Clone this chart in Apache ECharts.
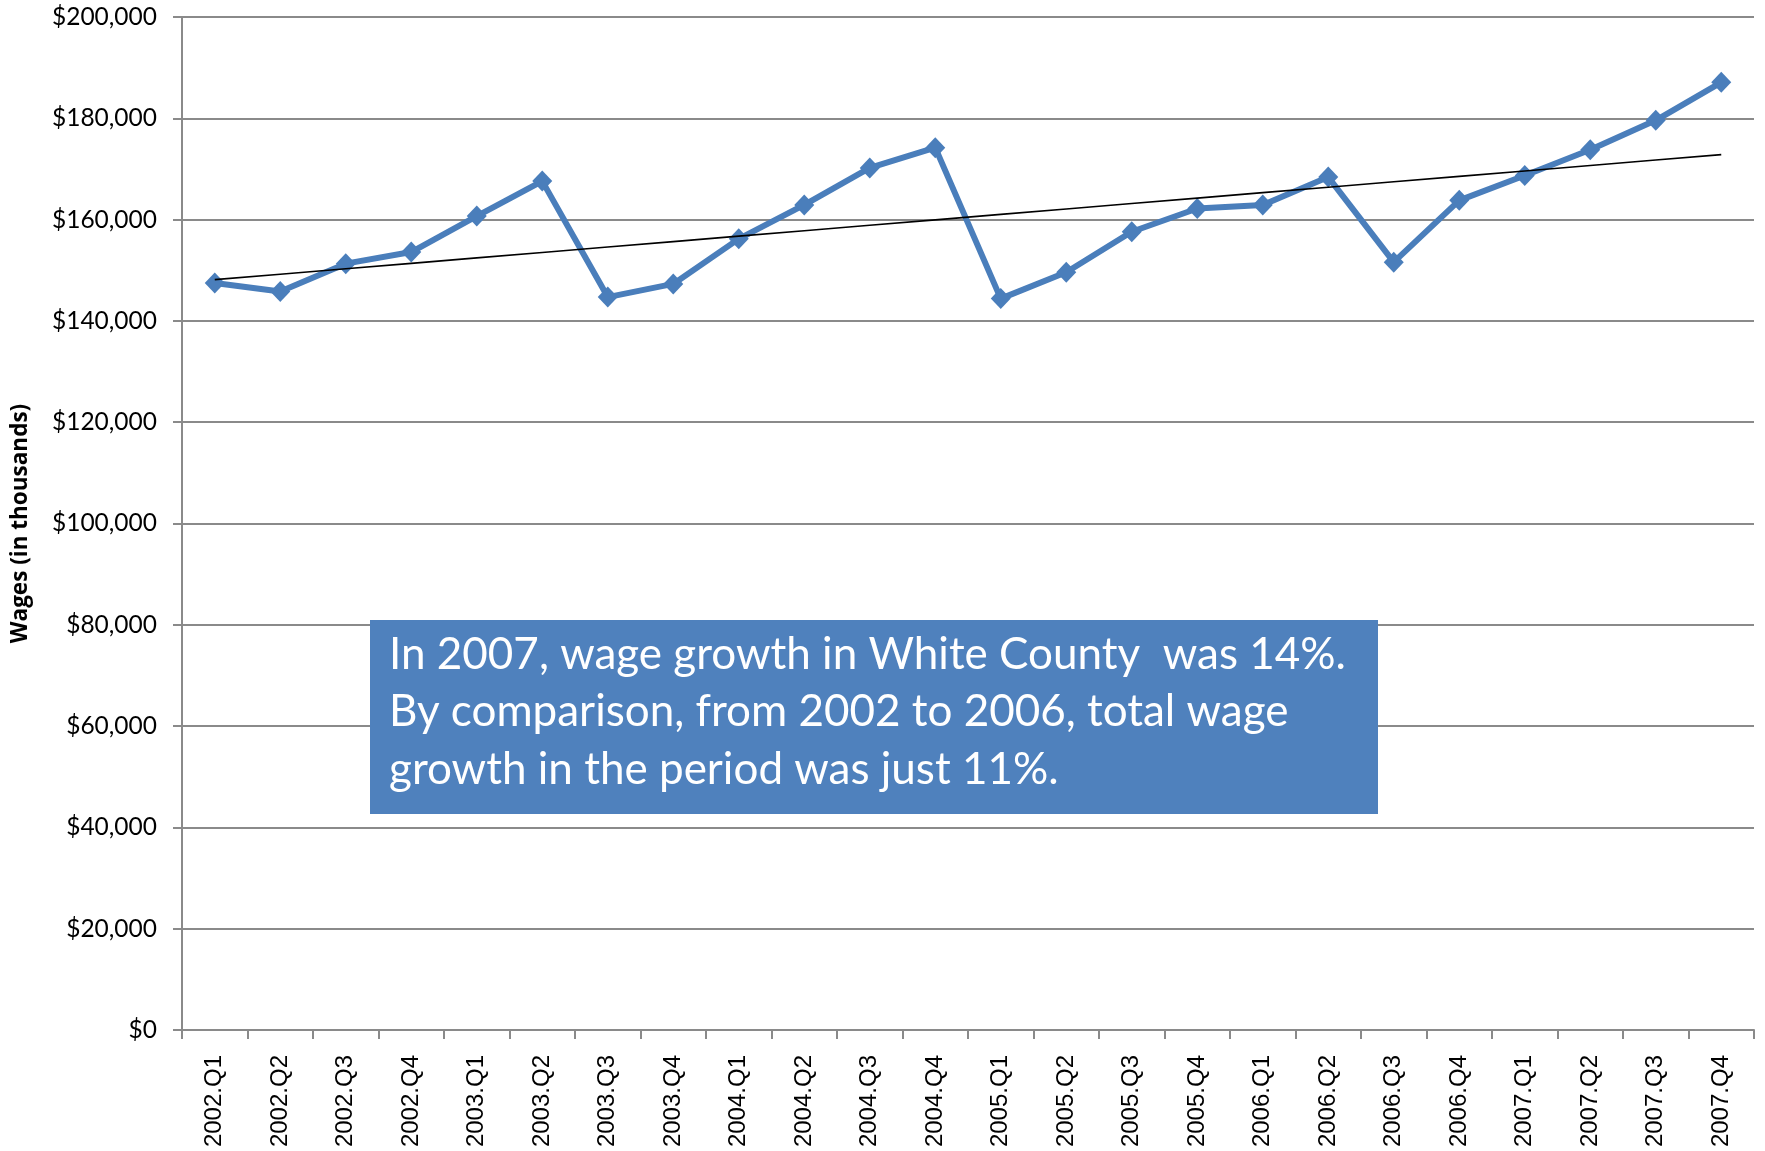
<!DOCTYPE html>
<html>
<head>
<meta charset="utf-8">
<script src="https://cdn.jsdelivr.net/npm/echarts@6/dist/echarts.min.js"></script>
<style>
html,body{margin:0;padding:0;background:#fff;}
#chart{width:1765px;height:1151px;}
</style>
</head>
<body>
<div id="chart"></div>
<script>
var categories = ["2002.Q1","2002.Q2","2002.Q3","2002.Q4","2003.Q1","2003.Q2","2003.Q3","2003.Q4",
  "2004.Q1","2004.Q2","2004.Q3","2004.Q4","2005.Q1","2005.Q2","2005.Q3","2005.Q4",
  "2006.Q1","2006.Q2","2006.Q3","2006.Q4","2007.Q1","2007.Q2","2007.Q3","2007.Q4"];
var wages = [147500,145800,151300,153600,160700,167600,144700,147300,
  156200,162900,170200,174200,144400,149600,157600,162200,
  162900,168400,151600,163800,168700,173800,179600,187100];
var yTicks = {min:0, max:200000, interval:20000};
var axisTitle = "Wages (in thousands)";
var noteLines = ["In 2007, wage growth in White County  was 14%.",
  "By comparison, from 2002 to 2006, total wage",
  "growth in the period was just 11%."];

// linear trendline (least squares) from the data
var n = wages.length, sx=0, sy=0, sxy=0, sxx=0;
for (var i=0;i<n;i++){ sx+=i; sy+=wages[i]; sxy+=i*wages[i]; sxx+=i*i; }
var slope = (n*sxy - sx*sy)/(n*sxx - sx*sx);
var intercept = (sy - slope*sx)/n;
var trend = wages.map(function(_,i){ return intercept + slope*i; });

var chart = echarts.init(document.getElementById('chart'));
var grey = '#8a8a8a';
chart.setOption({
  animation:false,
  backgroundColor:'#fff',
  grid:{left:182,right:11,top:17,bottom:121,containLabel:false},
  xAxis:{
    type:'category',
    data:categories,
    boundaryGap:true,
    axisLine:{lineStyle:{color:grey,width:2}},
    axisTick:{show:true,length:9,lineStyle:{color:grey,width:2}},
    axisLabel:{rotate:90,margin:25,fontFamily:'Liberation Sans',fontSize:24,color:'#000',interval:0}
  },
  yAxis:{
    type:'value',
    min:yTicks.min,max:yTicks.max,interval:yTicks.interval,
    name:axisTitle,
    nameLocation:'middle',
    nameGap:150,
    nameTextStyle:{fontFamily:'Open Sans',fontWeight:'bold',fontSize:22.5,color:'#000'},
    axisLine:{show:true,lineStyle:{color:grey,width:2}},
    axisTick:{show:true,length:9,lineStyle:{color:grey,width:2}},
    splitLine:{lineStyle:{color:grey,width:2}},
    axisLabel:{margin:25,fontFamily:'Lato',fontSize:24.5,color:'#000',
      formatter:function(v){ return '$'+v.toLocaleString('en-US'); }}
  },
  series:[
    {
      type:'line',
      data:wages,
      symbol:'diamond',
      symbolSize:[20,21],
      lineStyle:{color:'#4a7ebb',width:6},
      itemStyle:{color:'#4a7ebb'},
      z:3
    },
    {
      type:'line',
      data:trend,
      showSymbol:false,
      symbol:'none',
      lineStyle:{color:'#000',width:1.6},
      z:4
    }
  ],
  graphic:[
    {type:'rect',left:370,top:620,shape:{width:1008,height:194},style:{fill:'#4f81bd'},z:10},
    {type:'text',left:389,top:626,z:11,style:{text:noteLines.join('\n'),fill:'#fff',
      font:'44px Lato',lineHeight:57.5}}
  ]
});
</script>
</body>
</html>
